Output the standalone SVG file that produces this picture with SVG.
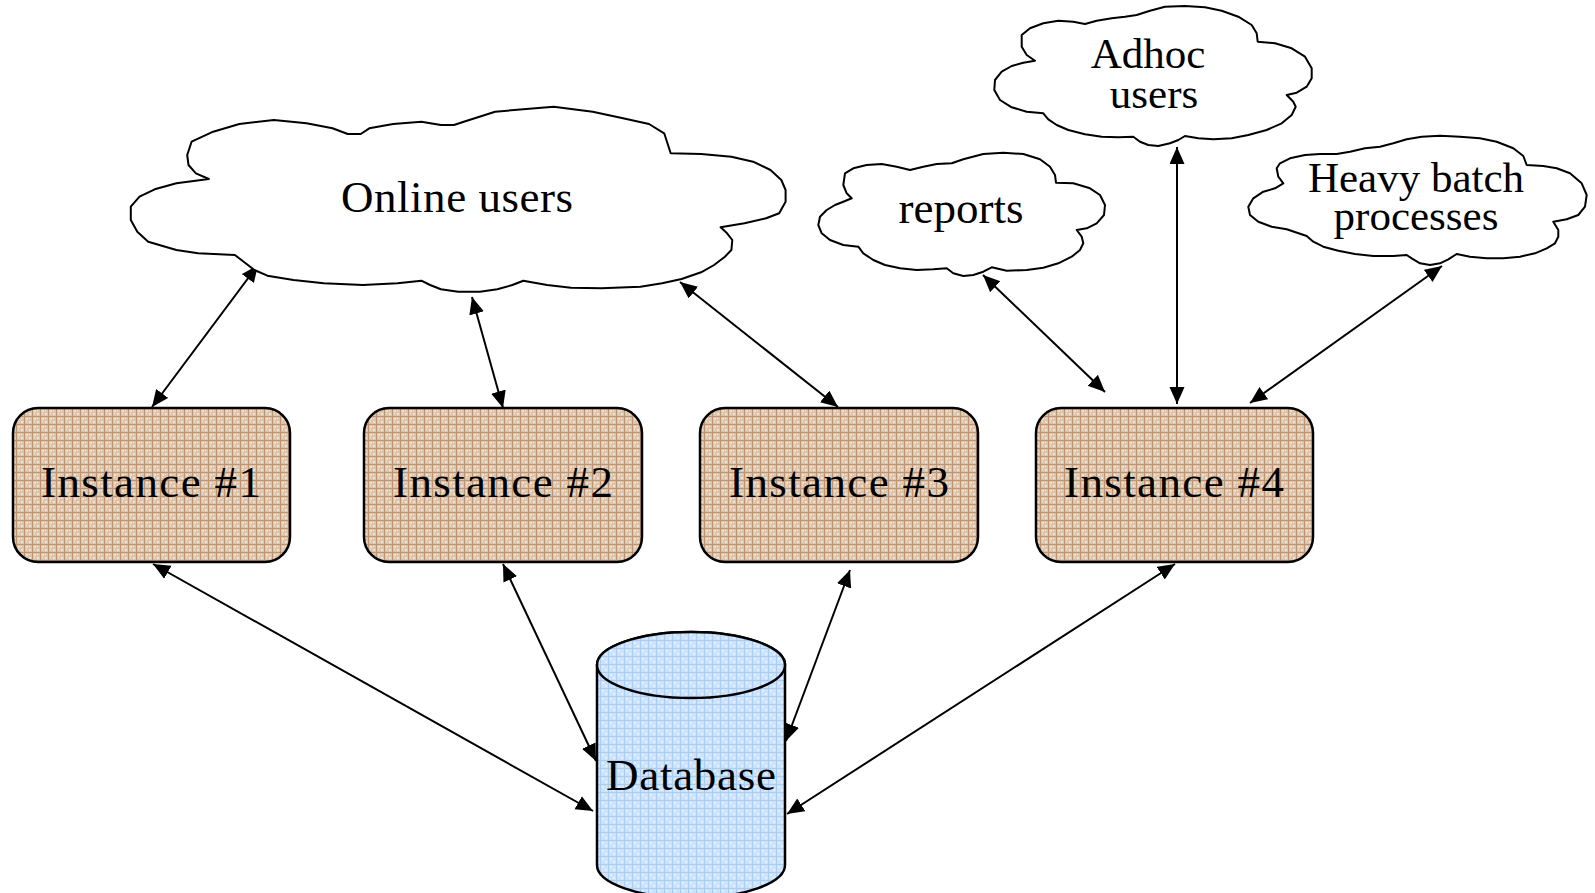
<svg xmlns="http://www.w3.org/2000/svg" width="1595" height="893" viewBox="0 0 1595 893">
<defs>
<style>
.cloud{fill:#fff;stroke:#000;stroke-width:2;stroke-linejoin:round}
.inst{fill:url(#brown);stroke:#000;stroke-width:2.5}
.db{fill:url(#blue);stroke:#000;stroke-width:2.5}
.lbl{font-family:"Liberation Serif","Times New Roman",serif;font-size:45px;fill:#000;text-anchor:middle}
.sm{font-size:43px}
.conn{stroke:#000;stroke-width:2;fill:none;marker-start:url(#ah);marker-end:url(#ah)}
</style>
<marker id="ah" markerUnits="userSpaceOnUse" markerWidth="18" markerHeight="16" refX="17" refY="7.5" orient="auto-start-reverse">
<path d="M0,0 L17,7.5 L0,15 z" fill="#000"/>
</marker>
<pattern id="brown" patternUnits="userSpaceOnUse" width="8" height="8">
<rect width="8" height="8" fill="#DCC4AC"/>
<rect x="2" y="2" width="2" height="2" fill="#EEE2D5"/>
<rect x="5" y="5" width="2" height="2" fill="#EEE2D5"/>
<rect x="5" y="2" width="1" height="1" fill="#F2E8DD"/>
<rect x="2" y="5" width="1" height="1" fill="#F2E8DD"/>
<rect width="8" height="1" fill="#BF9470"/>
<rect width="1" height="8" fill="#BF9470"/>
</pattern>
<pattern id="blue" patternUnits="userSpaceOnUse" width="8" height="8">
<rect width="8" height="8" fill="#CCE2FA"/>
<rect x="2" y="2" width="2" height="2" fill="#E4F0FD"/>
<rect x="5" y="5" width="2" height="2" fill="#E4F0FD"/>
<rect width="8" height="1" fill="#A9CDF4"/>
<rect width="1" height="8" fill="#A9CDF4"/>
</pattern>
</defs>
<rect width="1595" height="893" fill="#fff"/>

<g id="connectors">
<line class="conn" x1="152" y1="407" x2="258" y2="265"/>
<line class="conn" x1="503" y1="408" x2="472" y2="297"/>
<line class="conn" x1="838" y1="407" x2="680" y2="282"/>
<line class="conn" x1="1105" y1="392" x2="983" y2="275"/>
<line class="conn" x1="1177" y1="404" x2="1177" y2="147"/>
<line class="conn" x1="1250" y1="403" x2="1442" y2="266"/>
<line class="conn" x1="153" y1="564" x2="593" y2="811"/>
<line class="conn" x1="503" y1="564" x2="596" y2="761"/>
<line class="conn" x1="850" y1="570" x2="786" y2="741"/>
<line class="conn" x1="1175" y1="564" x2="787" y2="814"/>
</g>

<g id="online-users">
<polygon class="cloud" points="191.6,141.7 213.2,131.7 239.3,124 273.9,120 306.5,123.3 332.5,128.3 347.7,134 360.7,134 369.3,128.3 393.2,124 421.4,121.7 440.9,125 453.9,125 466.9,120.7 495.1,111.7 553.7,106.7 592.7,111.7 623,118.3 649,124 664.2,133.3 670.7,153.3 701.1,154 731.4,156.7 753.1,161.7 770.5,170 781.3,180 785.6,190 785.6,201.7 779.2,213.3 766.1,218.3 744.5,223.3 720.6,227.3 727.1,233.3 732.3,240 731.4,250 724.9,256.7 714.1,265 701.1,272.3 681.6,279 662.1,283.3 640.4,286.7 601.3,288.3 571,287.7 547.1,285 523.3,280.7 512.4,285 497.3,289.3 479.9,291.7 458.2,291.7 440.9,289.3 430.1,285 421.4,280.7 397.5,283.3 362.8,285 323.8,283.3 293.5,280 267.4,275.7 254.4,270 234.9,255 198.1,253.3 176.4,250 148.2,241.7 137.3,231.7 130.8,220 130.8,206.7 139.5,196.7 154.7,189.3 176.4,183.3 208.9,179 195.9,173.3 188.5,165 187.2,155"/>
<text class="lbl" x="457" y="212" textLength="232">Online users</text>
</g>

<g id="reports">
<polygon class="cloud" points="845,173.3 853.3,168.3 866.7,165 881.7,164 896.7,166.7 910,170 923.3,166.7 936.7,164 951.7,163.3 963.3,159.3 983.3,154 1003.3,152.7 1023.3,154 1040,159.3 1050,166.7 1055,175 1056,182.7 1073.3,183.3 1090,188.3 1100,195 1105,205 1104,215 1096.7,223.3 1086.7,228.3 1076.7,230 1081.7,236.7 1083.3,243.3 1080,250 1071.7,256.7 1058.3,263.3 1043.3,267.7 1026.7,270 1006.7,270.7 991.7,267.3 983.3,271.7 973.3,275 963.3,276 953.3,273.3 946.7,268.3 933.3,269.3 916.7,270 900,268.3 885,265 873.3,260 863.3,253.3 858.3,246.7 843.3,245 830,240 821.7,233.3 818.3,225 820,216.7 826.7,210 835,205 843.3,201.7 851.7,198.3 846.7,193.3 843.3,185"/>
<text class="lbl" x="961" y="223">reports</text>
</g>

<g id="adhoc-users">
<polygon class="cloud" points="1021.7,35 1030,28.3 1043.3,23.3 1058.3,20.7 1073.3,21.7 1085,24 1096.7,20.7 1111.7,18.3 1125,16.7 1136.7,15 1150,10.7 1165,6.7 1185,6 1205,7.3 1221.7,10.7 1238.3,16.7 1251.7,25 1256.7,33.3 1257.7,41.7 1275,43.3 1291.7,48.3 1305,56.7 1311.7,68.3 1311.7,78.3 1306.7,86.7 1296.7,92.7 1286.7,95 1293.3,101.7 1295.7,106.7 1291.7,115 1281.7,123.3 1266.7,130 1248.3,135 1231.7,138.3 1213.3,139.3 1198.3,138.3 1185,136 1178.3,140 1170,143.3 1158.3,146 1148.3,145 1140,141.7 1133.3,136.7 1118.3,137.3 1101.7,136.7 1085,134.3 1068.3,130 1056.7,125 1048.3,119.3 1043.3,113.3 1026.7,111.7 1011.7,107.3 1000,100 994.3,90 995,80 1001.7,71.7 1011.7,66 1023.3,62.7 1035,60.7 1026.7,55 1021.7,46.7"/>
<text class="lbl sm"><tspan x="1148" y="68">Adhoc</tspan><tspan x="1154" y="108">users</tspan></text>
</g>

<g id="heavy-batch">
<polygon class="cloud" points="1280,163.3 1290,158.3 1305,155 1320,154 1336.7,154 1350,151.7 1365,148.3 1380,146.7 1393.3,143.3 1406.7,139.3 1421.7,136.7 1440,135.7 1460,136.7 1480,138.3 1496.7,141.7 1513.3,148.3 1523.3,156 1526.7,165 1543.3,166 1556.7,168.3 1570,173.3 1581.7,183.3 1586.7,195 1585,206.7 1578.3,215 1566.7,219.3 1553.3,221.7 1558.3,230 1558.3,236.7 1555,243.3 1546.7,248.3 1535,253.3 1520,256.7 1503.3,258.3 1486.7,258.3 1470,256.7 1456.7,254 1448.3,259.3 1440,263.3 1430,265 1420,263.3 1411.7,258.3 1406.7,255 1393.3,256 1373.3,256 1355,254 1338.3,250.7 1323.3,246.7 1313.3,241.7 1306.7,236 1286.7,229.3 1271.7,226.7 1258.3,221.7 1250,215 1248.3,206.7 1253.3,198.3 1263.3,191.7 1275,188.3 1283.3,183.3 1278.3,176.7 1276.7,168.3"/>
<text class="lbl sm"><tspan x="1416" y="192">Heavy batch</tspan><tspan x="1416" y="230">processes</tspan></text>
</g>

<g id="instance-1">
<rect class="inst" x="13" y="408" width="277" height="154" rx="25"/>
<text class="lbl" x="151" y="497" textLength="220">Instance #1</text>
</g>
<g id="instance-2">
<rect class="inst" x="364" y="408" width="278" height="154" rx="25"/>
<text class="lbl" x="503" y="497" textLength="220">Instance #2</text>
</g>
<g id="instance-3">
<rect class="inst" x="700" y="408" width="278" height="154" rx="25"/>
<text class="lbl" x="839" y="497" textLength="220">Instance #3</text>
</g>
<g id="instance-4">
<rect class="inst" x="1036" y="408" width="277" height="154" rx="25"/>
<text class="lbl" x="1174" y="497" textLength="220">Instance #4</text>
</g>

<g id="database">
<path class="db" d="M597,665 L597,865 A94,33 0 0 0 785,865 L785,665 A94,33 0 0 0 597,665 Z"/>
<ellipse class="db" cx="691" cy="665" rx="94" ry="33"/>
<text class="lbl" x="691" y="790" textLength="170">Database</text>
</g>
</svg>
